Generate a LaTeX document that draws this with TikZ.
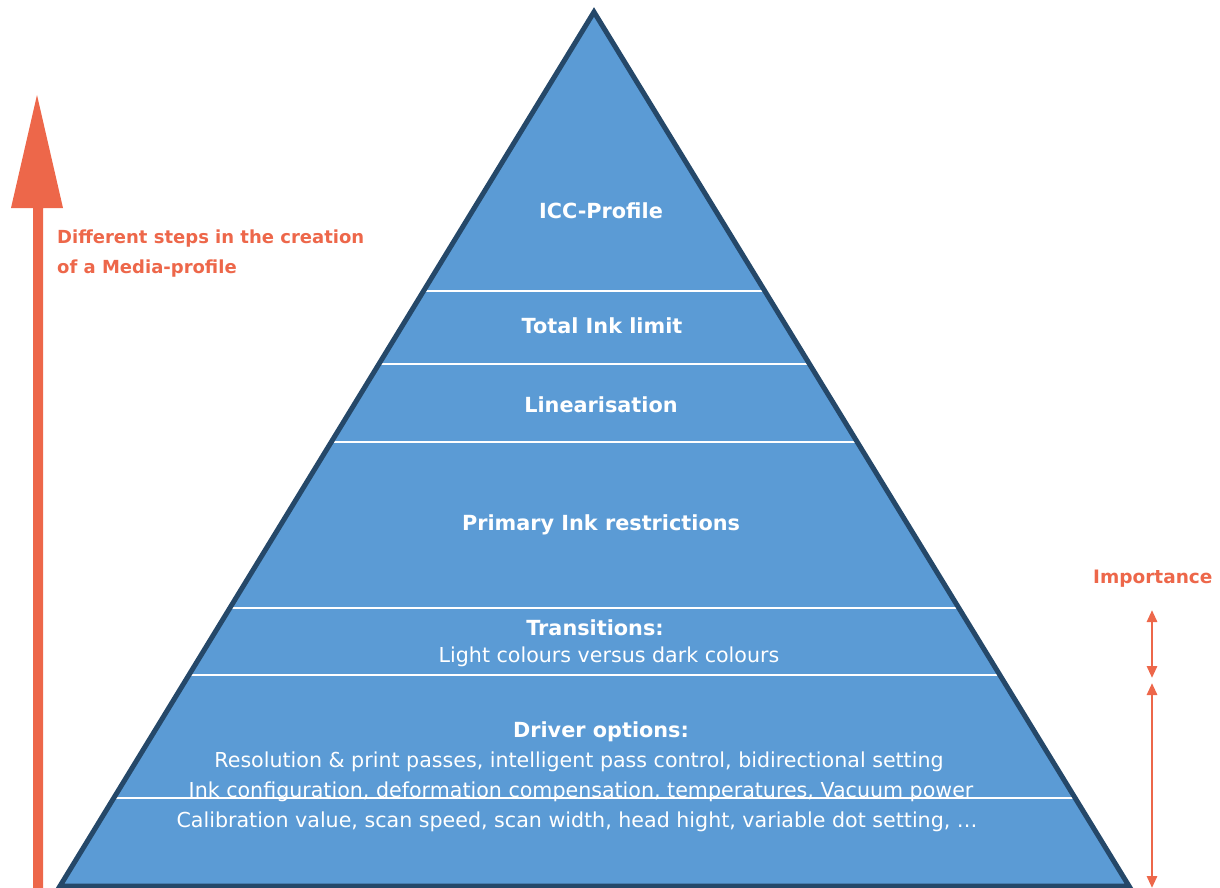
\documentclass[tikz,border=0pt]{standalone}
\usepackage{fontspec}
\setmainfont{DejaVu Sans}
\usetikzlibrary{arrows.meta}
\definecolor{accent}{RGB}{237,103,74}
\definecolor{pyrfill}{RGB}{91,155,213}
\definecolor{pyrline}{RGB}{37,72,105}
\tikzset{
  ttl/.style={text=white, font=\fontsize{20.8}{24}\selectfont\bfseries, anchor=base, inner sep=0pt},
  txt/.style={text=white, font=\fontsize{20.6}{24}\selectfont, anchor=base, inner sep=0pt},
  lbl/.style={text=accent, font=\fontsize{18}{22}\selectfont\bfseries, anchor=base west, inner sep=0pt},
  sep/.style={draw=white, line width=1.3pt},
  imp/.style={draw=accent, line width=2.8pt, {Triangle[width=10pt,length=12pt]}-{Triangle[width=10pt,length=12pt]}}
}
\begin{document}
\begin{tikzpicture}[x=1pt,y=-1pt]
\useasboundingbox (0,0) rectangle (1220,888);
% pyramid
\coordinate (apex) at (594,12);
\coordinate (bl) at (60,886);
\coordinate (br) at (1129,886);
\fill[pyrfill] (apex) -- (bl) -- (br) -- cycle;
\begin{scope}
\clip (apex) -- (bl) -- (br) -- cycle;
\foreach \yy in {291,364,442,608,675,798} {
  \draw[sep] (0,\yy) -- (1220,\yy);
}
\end{scope}
\draw[pyrline, line width=5pt, line join=miter] (apex) -- (bl) -- (br) -- cycle;
% texts
\node[ttl] (icc) at (601,218) {ICC-Profile};
\node[ttl] (til) at (602,333) {Total Ink limit};
\node[ttl] (lin) at (601,412) {Linearisation};
\node[ttl] (pir) at (601,530) {Primary Ink restrictions};
\node[ttl] (tra) at (595,635) {Transitions:};
\node[txt] (lcd) at (609,662) {Light colours versus dark colours};
\node[ttl] (dro) at (601,737) {Driver options:};
\node[txt] (d1) at (579,767) {Resolution \& print passes, intelligent pass control, bidirectional setting};
\node[txt] (d2) at (581,797) {Ink configuration, deformation compensation, temperatures, Vacuum power};
\node[txt] (d3) at (577,827) {Calibration value, scan speed, scan width, head hight, variable dot setting, \dots};
% left big arrow
\fill[accent] (33,888) -- (33,208) -- (11,208) -- (37,95) -- (63,208) -- (43,208) -- (43,888) -- cycle;
\node[lbl] (steps1) at (57,243) {Different steps in the creation};
\node[lbl] (steps2) at (57,273) {of a Media-profile};
% importance
\node[lbl, font=\fontsize{18.5}{22}\selectfont\bfseries] (impt) at (1093,583) {Importance};
\coordinate (i1) at (1152,610);
\coordinate (i2) at (1152,678);
\coordinate (i3) at (1152,683);
\coordinate (i4) at (1152,888);
\draw[imp] (i1) -- (i2);
\draw[imp] (i3) -- (i4);
\end{tikzpicture}
\end{document}
